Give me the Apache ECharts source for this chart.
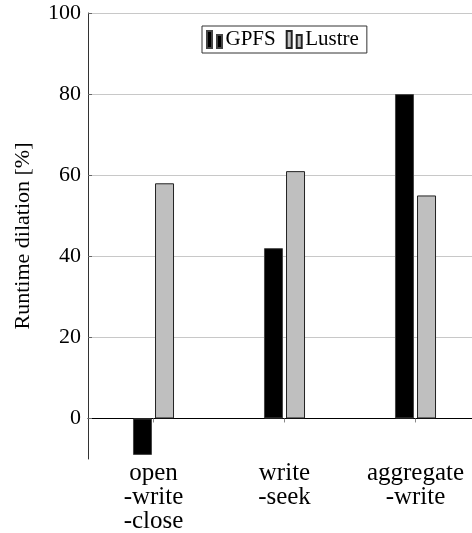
<!DOCTYPE html>
<html>
<head>
<meta charset="utf-8">
<script src="https://cdn.jsdelivr.net/npm/echarts@6/dist/echarts.min.js"></script>
<style>html,body{margin:0;padding:0;background:#fff}#c{width:472px;height:533px}</style>
</head>
<body>
<div id="c"></div>
<script>
const categories = ['open\n-write\n-close', 'write\n-seek', 'aggregate\n-write'];
const gpfs = [-9, 42, 80];
const lustre = [58, 61, 55];
const yTicks = [0, 20, 40, 60, 80, 100];
const yMin = -10, yMax = 100;

const serif = '"Liberation Serif", "DejaVu Serif", serif';
const icon = 'path://M0,0H5V17H0Z M10,4H15V17H10Z';

const chart = echarts.init(document.getElementById('c'), null, {renderer: 'canvas'});
chart.setOption({
  animation: false,
  backgroundColor: '#fff',
  grid: {left: 88, top: 13, width: 393, bottom: 74, containLabel: false, outerBoundsMode: 'none'},
  legend: {
    left: 202, top: 26,
    padding: [3, 8, 3, 4],
    borderColor: '#333', borderWidth: 1,
    itemWidth: 16, itemHeight: 17, itemGap: 10,
    textStyle: {fontFamily: serif, fontSize: 21, color: '#000', padding: [0, 0, 0, -2]},
    data: [{name: 'GPFS', icon: icon}, {name: 'Lustre', icon: icon}]
  },
  xAxis: {
    type: 'category',
    data: categories,
    axisLine: {onZero: true, lineStyle: {color: '#000', width: 1.2}},
    axisTick: {show: true, alignWithLabel: true, length: 4, inside: false, lineStyle: {color: '#888'}},
    axisLabel: {margin: 2, fontFamily: serif, fontSize: 25, color: '#000', lineHeight: 24, interval: 0},
    splitLine: {show: false}
  },
  yAxis: {
    type: 'value',
    min: yMin, max: yMax,
    name: 'Runtime dilation [%]',
    nameLocation: 'middle',
    nameGap: 54,
    nameTextStyle: {fontFamily: serif, fontSize: 22, color: '#000'},
    axisLine: {show: true, lineStyle: {color: '#333', width: 1}},
    axisTick: {show: true, inside: true, length: 4, customValues: yTicks, lineStyle: {color: '#666'}},
    axisLabel: {margin: 7, fontFamily: serif, fontSize: 22, color: '#000', customValues: yTicks},
    splitLine: {show: true, lineStyle: {color: '#c8c8c8', width: 1}}
  },
  series: [
    {
      name: 'GPFS', type: 'bar', data: gpfs,
      barWidth: 19, barGap: '16%',
      itemStyle: {color: '#000', borderColor: '#444', borderWidth: 1}
    },
    {
      name: 'Lustre', type: 'bar', data: lustre,
      barWidth: 19,
      itemStyle: {color: '#bfbfbf', borderColor: '#222', borderWidth: 1}
    }
  ]
});
</script>
</body>
</html>
